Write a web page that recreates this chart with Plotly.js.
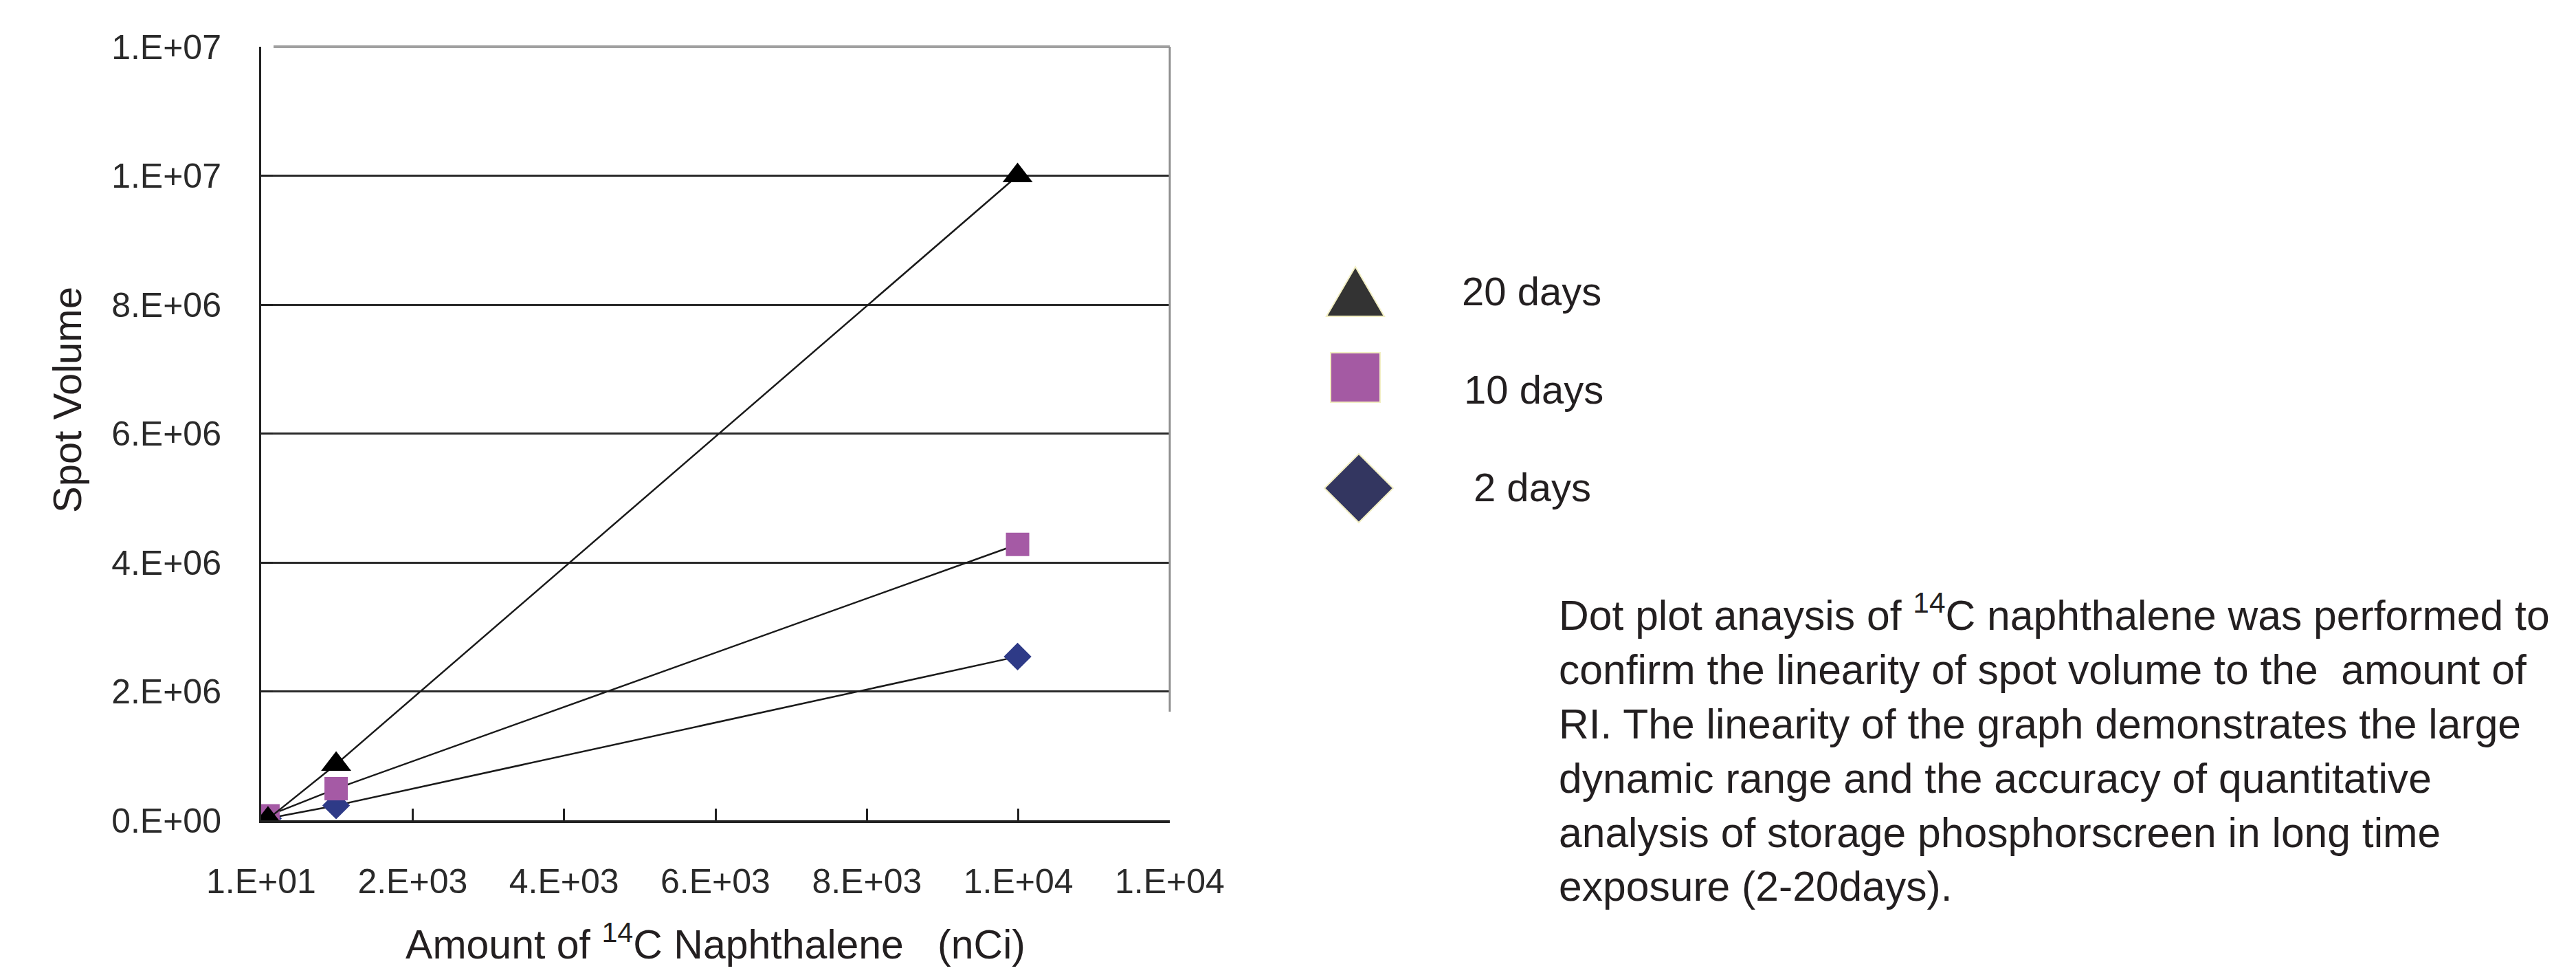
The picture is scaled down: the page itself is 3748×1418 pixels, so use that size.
<!DOCTYPE html>
<html>
<head>
<meta charset="utf-8">
<script src="https://cdn.plot.ly/plotly-3.0.1.min.js"></script>
<style>html,body{margin:0;padding:0;background:#fff;}#chart{width:3748px;height:1418px;}</style>
</head>
<body>
<div id="chart"></div>
<script>
// ---- data ----
const xAmount = [100, 1000, 10000];           // nCi of 14C naphthalene
const days20 = [0.02e6, 0.87e6, 10.0e6];
const days10 = [0.07e6, 0.49e6, 4.28e6];
const days2  = [0.03e6, 0.23e6, 2.54e6];
const seriesNames = ["20 days", "10 days", "2 days"];

const xTickVals = [10, 2010, 4010, 6010, 8010, 10010, 12010];
const xTickText = ["1.E+01", "2.E+03", "4.E+03", "6.E+03", "8.E+03", "1.E+04", "1.E+04"];
const yTickVals = [0, 2e6, 4e6, 6e6, 8e6, 10e6, 12e6];
const yTickText = ["0.E+00", "2.E+06", "4.E+06", "6.E+06", "8.E+06", "1.E+07", "1.E+07"];

const xTitle = "Amount of <sup>14</sup>C Naphthalene\u00a0\u00a0 (nCi)";
const yTitle = "Spot Volume";
const caption = "Dot plot anaysis of <sup>14</sup>C naphthalene was performed to<br>" +
  "confirm the linearity of spot volume to the\u00a0 amount of<br>" +
  "RI. The linearity of the graph demonstrates the large<br>" +
  "dynamic range and the accuracy of quantitative<br>" +
  "analysis of storage phosphorscreen in long time<br>" +
  "exposure (2-20days).";

// ---- layout geometry (pixels) ----
const W = 3748, H = 1418;
const PL = 380, PR = 1702, PT = 68, PB = 1193;
const pw = PR - PL, ph = PB - PT;
const px = v => (v - PL) / pw;
const py = v => (PB - v) / ph;

const mainFont = "Liberation Sans, Arial, sans-serif";
const textColor = "#231f20";

const lineStyle = {color: "#1a1a1a", width: 2.5};

const traces = [
  {x: xAmount, y: days2, name: seriesNames[2], mode: "lines+markers", line: lineStyle,
   marker: {symbol: "diamond", size: 31, color: "#2e3a87"}},
  {x: xAmount, y: days10, name: seriesNames[1], mode: "lines+markers", line: lineStyle,
   marker: {symbol: "square", size: 34, color: "#a55aa5"}},
  {x: xAmount, y: days20, name: seriesNames[0], mode: "lines+markers", line: lineStyle,
   marker: {symbol: "triangle-up", size: 38, color: "#000000"}}
];

// legend glyphs drawn as shapes (paper coords computed from pixel positions)
function triPath(cx, top, bottom, half) {
  return `M ${px(cx - half)} ${py(bottom)} L ${px(cx + half)} ${py(bottom)} L ${px(cx)} ${py(top)} Z`;
}
function rectPath(x0, y0, x1, y1) {
  return `M ${px(x0)} ${py(y0)} L ${px(x1)} ${py(y0)} L ${px(x1)} ${py(y1)} L ${px(x0)} ${py(y1)} Z`;
}
function diaPath(cx, cy, r) {
  return `M ${px(cx)} ${py(cy - r)} L ${px(cx + r)} ${py(cy)} L ${px(cx)} ${py(cy + r)} L ${px(cx - r)} ${py(cy)} Z`;
}
const legOutline = {color: "#f2efc4", width: 2};

const shapes = [
  // grey top border and right border of the plot area
  {type: "line", xref: "paper", yref: "paper", x0: px(PL + 18), x1: 1, y0: 1, y1: 1,
   line: {color: "#a0a0a0", width: 4}, layer: "above"},
  {type: "line", xref: "paper", yref: "paper", x0: 1, x1: 1, y0: 1, y1: py(1035),
   line: {color: "#909090", width: 3}, layer: "above"},
  // legend glyphs
  {type: "path", xref: "paper", yref: "paper", path: triPath(1972, 388, 460, 42),
   fillcolor: "#333333", line: legOutline},
  {type: "path", xref: "paper", yref: "paper", path: rectPath(1936, 513, 2008, 585),
   fillcolor: "#a45aa3", line: legOutline},
  {type: "path", xref: "paper", yref: "paper", path: diaPath(1977, 710, 50),
   fillcolor: "#333660", line: legOutline}
];

const annotations = [
  {xref: "paper", yref: "paper", x: px(97), y: py(582), xanchor: "center", yanchor: "middle",
   textangle: -90, text: yTitle, showarrow: false, font: {family: mainFont, size: 58, color: textColor}},
  {xref: "paper", yref: "paper", x: px(2125), y: py(423), xanchor: "left", yanchor: "middle",
   text: seriesNames[0], showarrow: false, font: {family: mainFont, size: 58, color: textColor}},
  {xref: "paper", yref: "paper", x: px(2128), y: py(566), xanchor: "left", yanchor: "middle",
   text: seriesNames[1], showarrow: false, font: {family: mainFont, size: 58, color: textColor}},
  {xref: "paper", yref: "paper", x: px(2142), y: py(708), xanchor: "left", yanchor: "middle",
   text: seriesNames[2], showarrow: false, font: {family: mainFont, size: 58, color: textColor}},
  {xref: "paper", yref: "paper", x: px(2266), y: py(1088), xanchor: "left", yanchor: "middle",
   align: "left", text: caption, showarrow: false,
   font: {family: mainFont, size: 60.6, color: textColor}}
];

const layout = {
  width: W, height: H,
  margin: {l: PL, r: W - PR, t: PT, b: H - PB, pad: 0},
  paper_bgcolor: "#ffffff", plot_bgcolor: "#ffffff",
  showlegend: false,
  font: {family: mainFont, color: textColor},
  xaxis: {
    range: [10, 12010], tickmode: "array", tickvals: xTickVals, ticktext: xTickText,
    ticks: "inside", ticklen: 17, tickwidth: 3, tickcolor: "#222",
    showline: true, linecolor: "#222", linewidth: 4, showgrid: false, zeroline: false,
    tickfont: {family: mainFont, size: 50, color: "#2a2a2a"}, ticklabelstandoff: 42,
    title: {text: xTitle, standoff: 45,
            font: {family: mainFont, size: 59, color: textColor}}
  },
  yaxis: {
    range: [0, 12e6], tickmode: "array", tickvals: yTickVals, ticktext: yTickText,
    ticks: "inside", ticklen: 17, tickwidth: 3, tickcolor: "#222",
    showline: true, linecolor: "#222", linewidth: 3,
    showgrid: true, gridcolor: "#2a2a2a", gridwidth: 3, zeroline: false,
    tickfont: {family: mainFont, size: 50, color: "#2a2a2a"}, ticklabelstandoff: 45
  },
  shapes: shapes,
  annotations: annotations
};

Plotly.newPlot("chart", traces, layout, {staticPlot: true});
</script>
</body>
</html>
